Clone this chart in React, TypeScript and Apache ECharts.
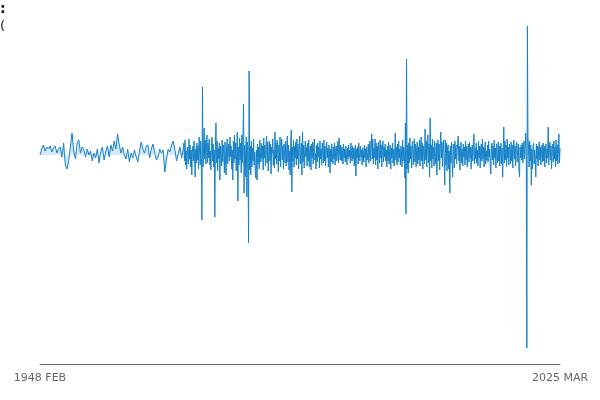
import React, { useEffect, useRef } from 'react';
import * as echarts from 'echarts';

// end labels of the time axis
const tickLabels = ['1948 FEB', '2025 MAR'];
const lastMonth = 925; // months after 1948 FEB

// 1948 FEB .. 1969 MAY, one value per quarter (tenths)
const quarterlyValues = [
  0, 6, 10, 4, 8, 6, 9, 3, 7, 9, 2, 6, 8, -2, 12, -10, -14, -6, 8, 22,
  4, -4, 12, 15, 2, 8, 5, -2, 6, 0, 4, -6, 2, -3, 6, -8, 3, 8, -5, 4,
  9, -2, 10, 4, 14, 6, 21, 10, 2, 8, 0, -4, 6, -7, 2, -3, 5, -2, -7, 4,
  13, 6, 2, 9, 10, -3, 6, 11, 3, -5, -2, 6, 2, 5, -17, -4, 6, 3, 10, 14,
  5, -6, 2, 8, -3, 7,
];
const monthlyStart = 256; // 1969 JUN

// 1969 JUN .. 2025 MAR, one value per month (tenths)
const monthlyValues = [
  12, -6, 15, -10, 4, -14, 8, 2, -9, 16, -4, 10, -12, 5, -20, 3, 9, -6, 14, -3,
  -22, 6, -8, 12, -5, 9, -14, 18, 4, -10, 14, -6, -65, 68, -12, 8, 27, -4, 15, -9,
  6, 20, -8, 12, -3, 16, -10, 4, -15, 9, 18, -6, 11, -12, 5, -62, 10, 32, -8, 14,
  -16, 7, -4, 12, -25, 9, 3, -11, 15, -7, 10, 2, -18, 13, -5, -20, 8, 16, -9, 4,
  11, -6, 18, -2, 9, -14, 5, -25, 14, -8, 20, -4, 12, -16, 6, 23, -46, 8, -10, 17,
  -5, 12, -18, 20, -8, 15, 51, -38, 10, -22, 6, 18, -42, 13, 4, -88, 84, -15, 9, -20,
  14, -12, 7, -6, 16, -10, 3, -18, -23, 5, -25, 11, -9, 8, -14, 15, 2, -7, 12, -4,
  9, -15, 17, -3, 10, -11, 6, 19, -8, 13, -16, 4, 14, -6, 11, -19, 8, 2, 16, -10,
  5, -13, 23, -4, 12, -9, 15, 1, -17, 10, -6, 18, -12, 7, 16, -5, 9, -14, 11, 3,
  -8, 14, -11, 6, 19, -7, 10, -15, 4, -20, 12, 25, -37, 8, -6, 15, -12, 9, -3, 13,
  -10, 16, -4, 11, -14, 6, 19, -9, 3, 12, -20, 23, -7, 10, -13, 5, 14, -2, 8, -11,
  12, -6, 15, -12, 4, 9, -15, 11, -3, 13, -9, 7, 16, -5, 2, -14, 10, -7, 12, -2,
  8, -13, 14, -4, 6, -10, 12, 3, -8, 15, -6, 9, -11, 4, 13, -3, 7, -12, 10, 1,
  -18, 6, -7, 11, 2, -9, 8, -4, 12, -10, 5, 9, -6, 3, 14, -8, 17, 4, -5, 10,
  -6, 8, 2, -9, 11, -3, 6, -7, 9, 1, -10, 7, -4, 10, -2, 5, -8, 12, 3, -6,
  9, -4, 7, -11, 4, 10, -21, 6, -3, 8, -9, 12, 2, -6, 9, -2, 5, -10, 7, 3,
  -7, 10, -3, 6, -12, 8, 2, -5, 11, -8, 4, 14, -6, 9, 21, -4, 16, -9, 7, -3,
  16, -10, 12, -5, 9, -14, 13, 4, -8, 15, -3, 10, -12, 6, 14, -7, 8, -2, 11, -6,
  5, -12, 9, -6, 13, -9, 4, 10, -14, 7, -3, 12, -8, 6, -11, 3, 22, -5, 8, -10,
  11, -7, 14, -3, 6, -10, 9, 2, -12, 15, -6, 8, 4, -23, 32, -59, 96, -14, 10, -18,
  12, -8, 17, -4, 9, -13, 6, 14, -10, 3, 16, -7, 11, -12, 5, 13, -9, 8, -5, 15,
  -11, 7, 18, -6, 12, -14, 9, 3, -9, 26, -5, 14, -12, 8, 20, -8, 11, -22, 37, -6,
  10, -13, 16, -4, 8, -11, 14, 2, -9, 12, -20, 7, 15, -6, 11, -15, 9, 23, -3, 13,
  -12, 8, 15, -7, -30, 15, -10, 12, -16, 6, 10, -14, 4, -38, 9, -8, 13, -5, -22, 11,
  7, -13, 14, -4, 10, -9, 5, 12, 19, -6, 9, -15, 3, 13, -8, 6, -11, 11, -2, 8,
  -10, 14, -5, 9, -12, 4, 11, -7, 13, -3, 8, -14, 6, 10, -6, 15, 21, -9, 7, -4,
  12, -8, 5, -11, 14, -3, 9, -13, 7, 11, -6, 16, -4, 8, -12, 6, 13, -9, 4, -5,
  10, -7, 14, -2, 6, -12, -19, 8, 12, -5, 9, -10, 15, -3, 7, -13, 11, 2, -8, 13,
  -6, 9, -11, 5, 12, -9, 7, -22, 4, 28, -8, 14, -5, 10, -12, 16, -3, 8, -10, 11,
  4, -9, 13, -6, 10, -13, 6, 15, -4, 9, -11, 7, 13, -7, 5, 11, -14, -22, 8, -3,
  10, -5, 12, -8, 6, 14, -4, 9, 22, 3, -193, 129, 18, 8, -12, 14, -6, 10, -30, 6,
  -14, 8, 12, -9, 5, -6, -22, 11, -4, 9, -11, 6, 13, -5, 8, -10, 3, 10, -7, 12,
  -6, 9, -12, 4, 11, -8, 6, -3, 28, -10, 7, 13, -5, 9, -14, 5, 11, -7, 14, -4,
  8, -12, 15, -6, 10, -9, 4, 21, -8, 7,
];

const lineColor = '#1581c8';

const App: React.FC = () => {
  const chartRef = useRef<HTMLDivElement>(null);

  useEffect(() => {
    if (!chartRef.current) return;
    const chart = echarts.init(chartRef.current, undefined, { renderer: 'svg' });

    const points: [number, number][] = [
      ...quarterlyValues.map((v, i) => [i * 3, v] as [number, number]),
      ...monthlyValues.map((v, i) => [monthlyStart + i, v] as [number, number]),
    ];

    chart.setOption({
      animation: false,
      textStyle: { fontFamily: 'DejaVu Sans' },
      graphic: [
        {
          type: 'text',
          left: 0,
          top: 1,
          style: { text: ':', font: 'bold 14px DejaVu Sans', fill: '#111' },
        },
        {
          type: 'text',
          left: 0,
          top: 19,
          style: { text: '(', font: '13px DejaVu Sans', fill: '#111' },
        },
      ],
      grid: { left: 40, right: 40, top: 20, bottom: 36 },
      xAxis: {
        type: 'value',
        min: 0,
        max: lastMonth,
        splitLine: { show: false },
        axisTick: { show: false },
        axisLine: { show: true, onZero: false, lineStyle: { color: '#6e6e6e', width: 1 } },
        axisLabel: {
          customValues: [0, lastMonth],
          color: '#666',
          fontSize: 11,
          margin: 8,
          formatter: (v: number) => (v === 0 ? tickLabels[0] : tickLabels[1]),
        },
      },
      yAxis: {
        type: 'value',
        min: -209,
        max: 135,
        show: false,
      },
      series: [
        {
          type: 'line',
          data: points,
          showSymbol: false,
          symbol: 'none',
          lineStyle: { color: lineColor, width: 1 },
          itemStyle: { color: lineColor },
          areaStyle: { color: lineColor, opacity: 0.18 },
        },
      ],
    });

    return () => chart.dispose();
  }, []);

  return (
    <div
      ref={chartRef}
      style={{ position: 'fixed', left: 0, top: 0, width: 600, height: 400 }}
    />
  );
};

export default App;
